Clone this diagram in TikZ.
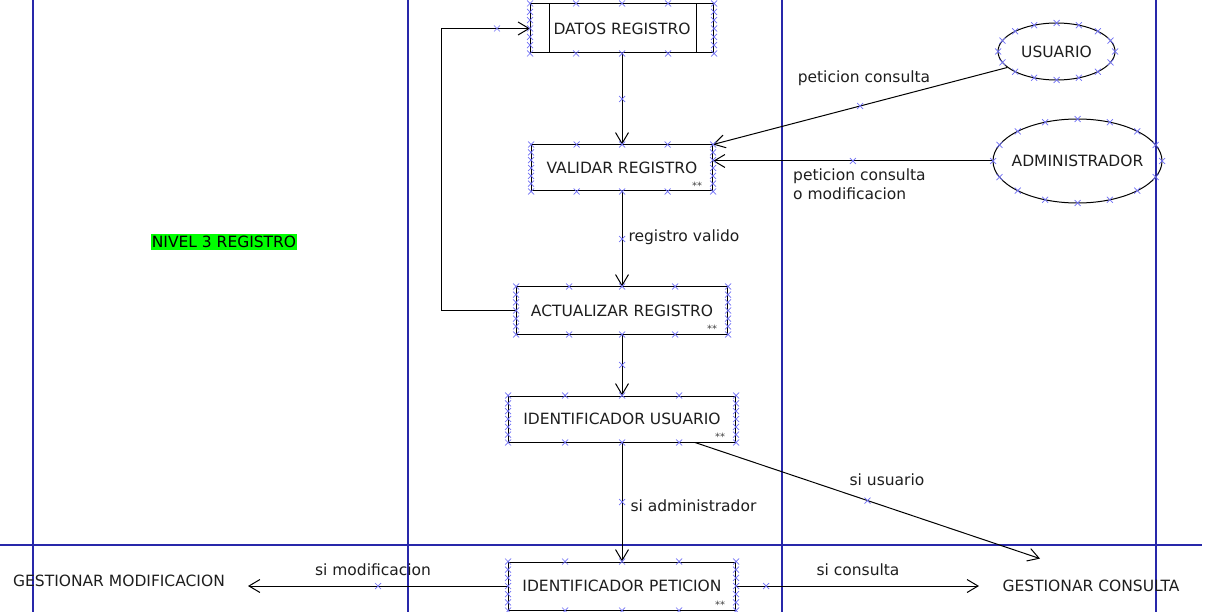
\documentclass[tikz,border=0pt]{standalone}
\usepackage{fontspec}
\setmainfont{DejaVu Sans}
\usetikzlibrary{arrows.meta,shapes.geometric,calc,decorations.markings}
\definecolor{lanecol}{RGB}{40,40,170}
\definecolor{hcol}{RGB}{110,110,245}
\definecolor{txtcol}{RGB}{30,30,30}
\definecolor{nivelgreen}{RGB}{0,255,0}
\begin{document}
\begin{tikzpicture}[x=1pt, y=-1pt,
  every node/.style={font=\fontsize{15.5}{19}\selectfont, text=txtcol},
  proc/.style={rectangle, draw=black, line width=1pt, text centered, minimum height=47pt},
  actor/.style={ellipse, draw=black, line width=1pt},
  flow/.style={draw=black, line width=1pt, -{Straight Barb[length=11pt,width=13pt]}},
  lane/.style={draw=lanecol, line width=1.3pt},
  stars/.style={font=\fontsize{10}{10}\selectfont, text=black!75, inner sep=0pt},
  hx/.pic={\draw[hcol, line width=.7pt, -] (-3pt,-3pt) -- (3pt,3pt) (-3pt,3pt) -- (3pt,-3pt);},
  midx/.style={postaction={decorate, decoration={markings, mark=at position #1 with {\pic {hx};}}}},
  midx/.default=.5]
\useasboundingbox (0,0) rectangle (1207,612);
\foreach \x in {33,408,782,1156} \draw[lane] (\x,0) -- (\x,612);
\draw[lane] (0,545) -- (1202,545);
\node[proc, minimum width=183pt, minimum height=49pt] at (622,28.5) (DR) {DATOS REGISTRO};
\draw[line width=1pt] ([xshift=19pt]DR.north west) -- ([xshift=19pt]DR.south west);
\draw[line width=1pt] ([xshift=-18pt]DR.north east) -- ([xshift=-18pt]DR.south east);
\node[proc, minimum width=181pt, minimum height=46pt] at (622,168) (VR) {VALIDAR REGISTRO};
\node[proc, minimum width=211pt] at (622,310.5) (AR) {ACTUALIZAR REGISTRO};
\node[proc, minimum width=227pt, minimum height=46pt] at (622,419) (IU) {IDENTIFICADOR USUARIO};
\node[proc, minimum width=227pt, minimum height=48pt] at (622,586) (IP) {IDENTIFICADOR PETICION};
\node[actor, minimum width=117pt, minimum height=57pt] at (1056.5,51.5) (US) {USUARIO};
\node[actor, minimum width=169pt, minimum height=84pt, inner xsep=-15pt] at (1077.5,161) (AD) {ADMINISTRADOR};
\node[fill=nivelgreen, text=black, inner xsep=1pt, inner ysep=2pt] at (224,242) (NR) {NIVEL 3 REGISTRO};
\node at (119,581) (GM) {GESTIONAR MODIFICACION};
\node at (1091,586) (GC) {GESTIONAR CONSULTA};
\foreach \n in {VR,AR,IU,IP} \node[stars] at ([xshift=-16pt,yshift=6pt]\n.south east) (S\n) {**};
\node at (864,78) (L1) {peticion consulta};
\node[align=left, anchor=north west, inner sep=0pt] at (793,169) (L2) {peticion consulta\\o modificacion};
\node[anchor=west] at (625,237) (L3) {registro valido};
\node at (887,480) (L4) {si usuario};
\node[anchor=west] at (627,506) (L5) {si administrador};
\node at (373,570) (L6) {si modificacion};
\node at (858,570) (L7) {si consulta};
\node[shape=coordinate] at ([xshift=-75pt]AR.west) (P1) {};
\node[shape=coordinate] at (P1 |- DR.west) (P2) {};
\node[shape=coordinate] at (248,586) (P3) {};
\node[shape=coordinate] at ([xshift=-51pt,yshift=18pt]GC.north) (P4) {};
\node[shape=coordinate] at ([xshift=-20pt]GC.west) (P5) {};
\draw[flow, midx] (DR) -- (VR);
\draw[flow, midx] (US.198) -- (VR.north east);
\draw[flow, midx] (AD.west) -- (AD.west -| VR.east);
\draw[flow, midx] (VR) -- (AR);
\draw[flow, midx=.926] (AR.west) -- (P1) -- (P2) -- (DR.west);
\draw[flow, midx] (AR) -- (IU);
\draw[flow, midx] (IU) -- (IP);
\draw[flow, midx] ([xshift=73pt]IU.south) -- (P4);
\draw[flow, midx] (IP.west) -- (P3);
\draw[flow, midx=.124] (IP.east) -- (P5);
\foreach \n in {DR,VR,AR,IU,IP} {
  \foreach \f in {0,0.25,0.5,0.75,1} {
    \pic at ($(\n.north west)!\f!(\n.north east)$) {hx};
    \pic at ($(\n.south west)!\f!(\n.south east)$) {hx};
  }
  \foreach \f in {0.167,0.333,0.5,0.667,0.833} {
    \pic at ($(\n.north west)!\f!(\n.south west)$) {hx};
    \pic at ($(\n.north east)!\f!(\n.south east)$) {hx};
  }
}
\foreach \a in {0,22.5,...,337.5} {
  \pic at ($(US.center)+(\a:58.5pt and 28.5pt)$) {hx};
  \pic at ($(AD.center)+(\a:84.5pt and 42pt)$) {hx};
}
\end{tikzpicture}
\end{document}
